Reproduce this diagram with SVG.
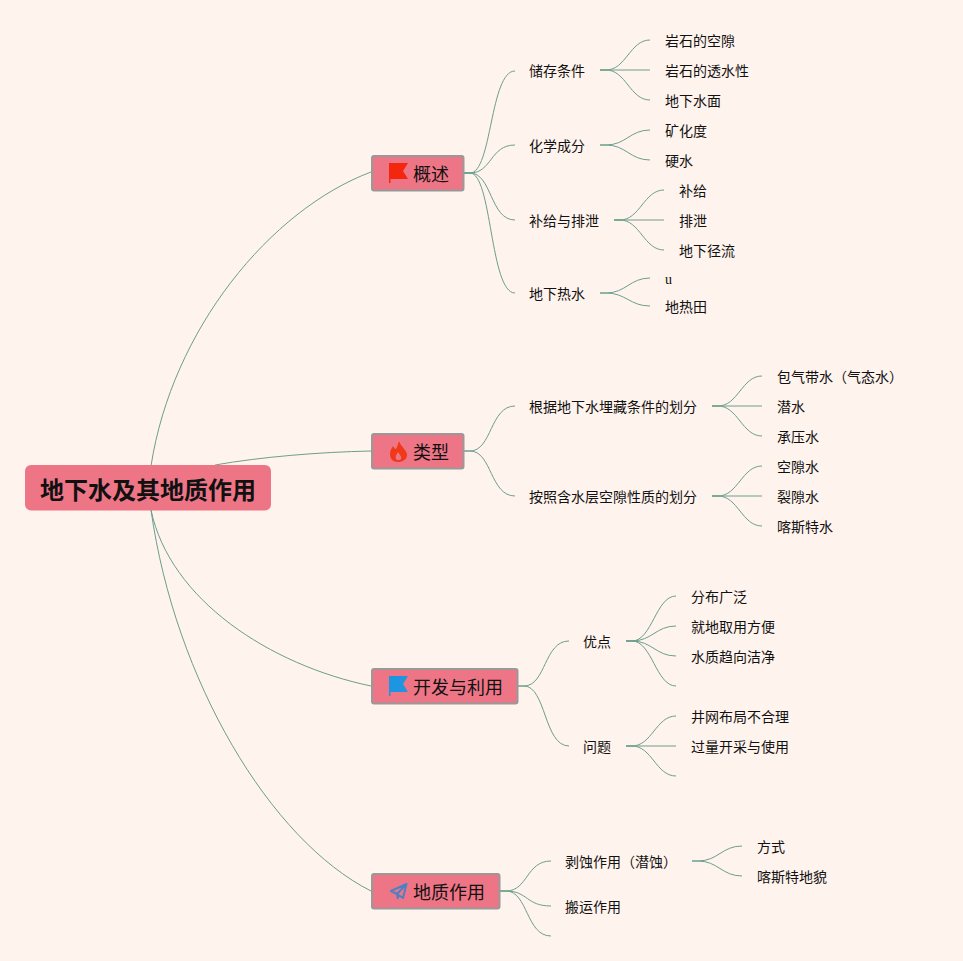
<svg xmlns="http://www.w3.org/2000/svg" width="963" height="961" viewBox="0 0 963 961">
<style>
text{font-family:"Noto Sans CJK SC","Noto Sans",sans-serif;fill:#111;dominant-baseline:central}
.c{fill:none;stroke:#6a9f8c;stroke-width:1}
.b{fill:#ee7586;stroke:#999;stroke-width:2}
.m{font-size:18px}
.t{font-size:14px}
.r{font-size:24px;font-weight:700}
</style>
<rect width="963" height="961" fill="#fff3ed"/>
<g id="connectors" class="c">
<path d="M151 466C172 330 270 210 371 172"/>
<path d="M215 465C260 457 320 452 371 451"/>
<path d="M151 510C170 600 270 665 371 686"/>
<path d="M151 510C175 680 270 840 371 891"/>
<path d="M464 173H470C492 173 490 71 515 71"/>
<path d="M464 173H470C492 173 490 145 515 145"/>
<path d="M464 173H470C492 173 490 220 515 220"/>
<path d="M464 173H470C492 173 490 293 515 293"/>
<path d="M600 70H606C626 70 630 40 650 40"/>
<path d="M600 70H650"/>
<path d="M600 70H606C626 70 630 100 650 100"/>
<path d="M600 145H606C626 145 630 130 650 130"/>
<path d="M600 145H606C626 145 630 160 650 160"/>
<path d="M614 220H620C640 220 644 190 664 190"/>
<path d="M614 220H664"/>
<path d="M614 220H620C640 220 644 250 664 250"/>
<path d="M600 293H606C626 293 630 278 650 278"/>
<path d="M600 293H606C626 293 630 306 650 306"/>
<path d="M464 451H470C492 451 490 406 515 406"/>
<path d="M464 451H470C492 451 490 496 515 496"/>
<path d="M712 406H718C738 406 742 376 762 376"/>
<path d="M712 406H762"/>
<path d="M712 406H718C738 406 742 436 762 436"/>
<path d="M712 496H718C738 496 742 466 762 466"/>
<path d="M712 496H762"/>
<path d="M712 496H718C738 496 742 526 762 526"/>
<path d="M518 686H524C546 686 544 641 569 641"/>
<path d="M518 686H524C546 686 544 746 569 746"/>
<path d="M626 641H632C652 641 656 596 676 596"/>
<path d="M626 641H632C652 641 656 626 676 626"/>
<path d="M626 641H632C652 641 656 656 676 656"/>
<path d="M626 641H632C652 641 656 686 676 686"/>
<path d="M626 746H632C652 746 656 716 676 716"/>
<path d="M626 746H676"/>
<path d="M626 746H632C652 746 656 776 676 776"/>
<path d="M500 891H506C528 891 526 861 551 861"/>
<path d="M500 891H506C528 891 526 906 551 906"/>
<path d="M500 891H506C528 891 526 936 551 936"/>
<path d="M692 861H698C718 861 722 846 742 846"/>
<path d="M692 861H698C718 861 722 876 742 876"/>
</g>
<g id="root"><rect x="25" y="465" width="246" height="45.500" rx="6" fill="#ee7586"/><text class="r" x="148" y="488" text-anchor="middle">地下水及其地质作用</text></g>
<g id="n1"><rect class="b" x="372" y="156" width="91.500" height="34.500" rx="2"/><path d="M389 163H408L403 171L408 179H390.500V183H389Z" fill="#f5260f"/><text class="m" x="413" y="172.500">概述</text></g>
<g id="n2"><rect class="b" x="372" y="434" width="91.500" height="34.500" rx="2"/><path d="M399 441C401 447 408 451 407 456C406 460 402 462 398 462C393 462 390 459 390 454C390 450 392 448 393 446C394 448 395 449 396 449C397 447 398 444 399 441ZM398 452C396 455 395 457 396 459C397 460.500 400 460.500 401 459C402 457 400 455 398 452Z" fill="#f0391b" fill-rule="evenodd"/><text class="m" x="413" y="451">类型</text></g>
<g id="n3"><rect class="b" x="372" y="669" width="145.500" height="34.500" rx="2"/><path d="M389 676H408L403 684L408 692H390.500V696H389Z" fill="#1d95e0"/><text class="m" x="413" y="686">开发与利用</text></g>
<g id="n4"><rect class="b" x="372" y="874" width="127.500" height="34.500" rx="2"/><path d="M406.500 884L391 891L397 894ZM406.500 884L397 894L403 898Z M397 894L398 899" fill="none" stroke="#4c80c4" stroke-width="2" stroke-linejoin="round"/><text class="m" x="413" y="891">地质作用</text></g>
<g id="n5"><text class="t" x="529" y="70">储存条件</text></g>
<g id="n6"><text class="t" x="665" y="40">岩石的空隙</text></g>
<g id="n7"><text class="t" x="665" y="70">岩石的透水性</text></g>
<g id="n8"><text class="t" x="665" y="100">地下水面</text></g>
<g id="n9"><text class="t" x="529" y="145">化学成分</text></g>
<g id="n10"><text class="t" x="665" y="130">矿化度</text></g>
<g id="n11"><text class="t" x="665" y="160">硬水</text></g>
<g id="n12"><text class="t" x="529" y="220">补给与排泄</text></g>
<g id="n13"><text class="t" x="679" y="190">补给</text></g>
<g id="n14"><text class="t" x="679" y="220">排泄</text></g>
<g id="n15"><text class="t" x="679" y="250">地下径流</text></g>
<g id="n16"><text class="t" x="529" y="293">地下热水</text></g>
<g id="n17"><text class="t" x="665" y="279" style="font-family:'Liberation Serif',serif">u</text></g>
<g id="n18"><text class="t" x="665" y="306">地热田</text></g>
<g id="n19"><text class="t" x="529" y="406">根据地下水埋藏条件的划分</text></g>
<g id="n20"><text class="t" x="777" y="376">包气带水（气态水）</text></g>
<g id="n21"><text class="t" x="777" y="406">潜水</text></g>
<g id="n22"><text class="t" x="777" y="436">承压水</text></g>
<g id="n23"><text class="t" x="529" y="496">按照含水层空隙性质的划分</text></g>
<g id="n24"><text class="t" x="777" y="466">空隙水</text></g>
<g id="n25"><text class="t" x="777" y="496">裂隙水</text></g>
<g id="n26"><text class="t" x="777" y="526">喀斯特水</text></g>
<g id="n27"><text class="t" x="583" y="641">优点</text></g>
<g id="n28"><text class="t" x="691" y="596">分布广泛</text></g>
<g id="n29"><text class="t" x="691" y="626">就地取用方便</text></g>
<g id="n30"><text class="t" x="691" y="656">水质趋向洁净</text></g>
<g id="n31"><text class="t" x="583" y="746">问题</text></g>
<g id="n32"><text class="t" x="691" y="716">井网布局不合理</text></g>
<g id="n33"><text class="t" x="691" y="746">过量开采与使用</text></g>
<g id="n34"><text class="t" x="565" y="861">剥蚀作用（潜蚀）</text></g>
<g id="n35"><text class="t" x="757" y="846">方式</text></g>
<g id="n36"><text class="t" x="757" y="876">喀斯特地貌</text></g>
<g id="n37"><text class="t" x="565" y="906">搬运作用</text></g>
</svg>
